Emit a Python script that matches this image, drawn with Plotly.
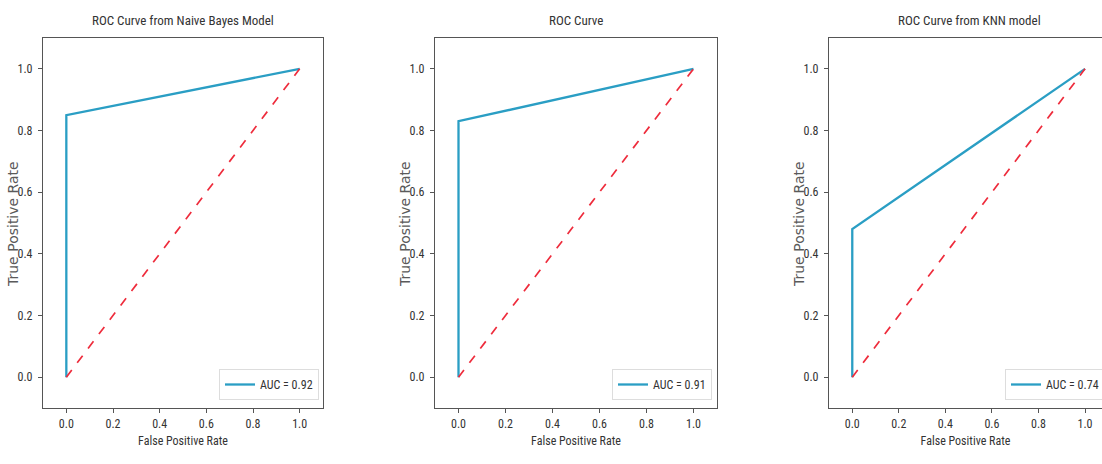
import plotly.graph_objects as go

# ---- data ----
titles = ["ROC Curve from Naive Bayes Model", "ROC Curve", "ROC Curve from KNN model"]
fpr_nb = [0.0, 0.0, 1.0]
tpr_nb = [0.0, 0.85, 1.0]
fpr_rf = [0.0, 0.0, 1.0]
tpr_rf = [0.0, 0.83, 1.0]
fpr_knn = [0.0, 0.0, 1.0]
tpr_knn = [0.0, 0.48, 1.0]
auc_labels = ["AUC = 0.92", "AUC = 0.91", "AUC = 0.74"]
diag = [0.0, 1.0]
tick_vals = [0.0, 0.2, 0.4, 0.6, 0.8, 1.0]
tick_text = ["0.0", "0.2", "0.4", "0.6", "0.8", "1.0"]
x_title = "False Positive Rate"
y_title = "True Positive Rate"

W, H = 1102, 464
COND = "Liberation Sans Narrow, Roboto Condensed, Arial Narrow, DejaVu Sans Condensed, sans-serif"
WIDE = "DejaVu Sans, Verdana, sans-serif"
CURVE = "#2a9ec4"
RED = "#ee2c3c"
AX = "#555555"


def px(v):
    return v / W


def py(v):
    return 1 - v / H


panels = [
    (fpr_nb, tpr_nb, 43, 323, [-0.1, 1.1], True),
    (fpr_rf, tpr_rf, 435, 717, [-0.1, 1.1], True),
    (fpr_knn, tpr_knn, 829, 1102, [-0.1, 1.073], False),
]
legend_pos = [(319, "right"), (712, "right"), (1005, "left")]
title_x = [183, 576, 969]
ytitle_x = [13, 405, 799]

ydom = [py(408), py(38)]

fig = go.Figure()
annotations = []
for i, (fx, ty, xl, xr, xrange, right_spine) in enumerate(panels):
    n = "" if i == 0 else str(i + 1)
    leg = "legend" if i == 0 else f"legend{i + 1}"
    fig.add_trace(go.Scatter(
        x=fx, y=ty, mode="lines", name=auc_labels[i],
        line=dict(color=CURVE, width=2.3),
        xaxis="x" + n, yaxis="y" + n, legend=leg, showlegend=True,
    ))
    fig.add_trace(go.Scatter(
        x=diag, y=diag, mode="lines", name="chance",
        line=dict(color=RED, width=1.7, dash="dash"),
        xaxis="x" + n, yaxis="y" + n, showlegend=False,
    ))
    axcommon = dict(
        tickvals=tick_vals, ticktext=tick_text, ticks="outside", ticklen=4,
        tickcolor=AX, tickwidth=1, showline=True, linecolor=AX, linewidth=1.2,
        showgrid=False, zeroline=False,
        tickfont=dict(family=COND, size=12, color="#333333"),
    )
    fig.update_layout(**{
        "xaxis" + n: dict(
            axcommon, domain=[max(px(xl), 0), min(px(xr), 1)], range=xrange,
            anchor="y" + n, mirror=True,
            title=dict(text=x_title, standoff=7,
                       font=dict(family=COND, size=12, color="#333333")),
        ),
        "yaxis" + n: dict(
            axcommon, domain=ydom, range=[-0.1, 1.1], anchor="x" + n,
            mirror=right_spine, ticklabelstandoff=3,
        ),
    })
    lx, lanchor = legend_pos[i]
    fig.update_layout(**{
        leg: dict(
            x=px(lx), xanchor=lanchor, y=py(400), yanchor="bottom",
            bgcolor="rgba(255,255,255,0.9)", bordercolor="#dddddd", borderwidth=1,
            font=dict(family=COND, size=12, color="#333333"),
            itemwidth=30, tracegroupgap=0,
        )
    })
    annotations.append(dict(
        text=titles[i], x=px(title_x[i]), y=py(21), xref="paper", yref="paper",
        showarrow=False, xanchor="center", yanchor="middle",
        font=dict(family=COND, size=13, color="#333333"),
    ))
    annotations.append(dict(
        text=y_title, x=px(ytitle_x[i]), y=py(224), xref="paper", yref="paper",
        showarrow=False, xanchor="center", yanchor="middle", textangle=-90,
        font=dict(family=WIDE, size=14, color="#5a5a5a"),
    ))

fig.update_layout(
    width=W, height=H, annotations=annotations,
    margin=dict(l=0, r=0, t=0, b=0, autoexpand=False),
    paper_bgcolor="white", plot_bgcolor="white",
)
# remove the default page margin so the figure fills the window exactly
fig.write_html(
    "out.html",
    config={"displayModeBar": False},
    post_script="document.body.style.margin='0';document.body.style.overflow='hidden';",
)
